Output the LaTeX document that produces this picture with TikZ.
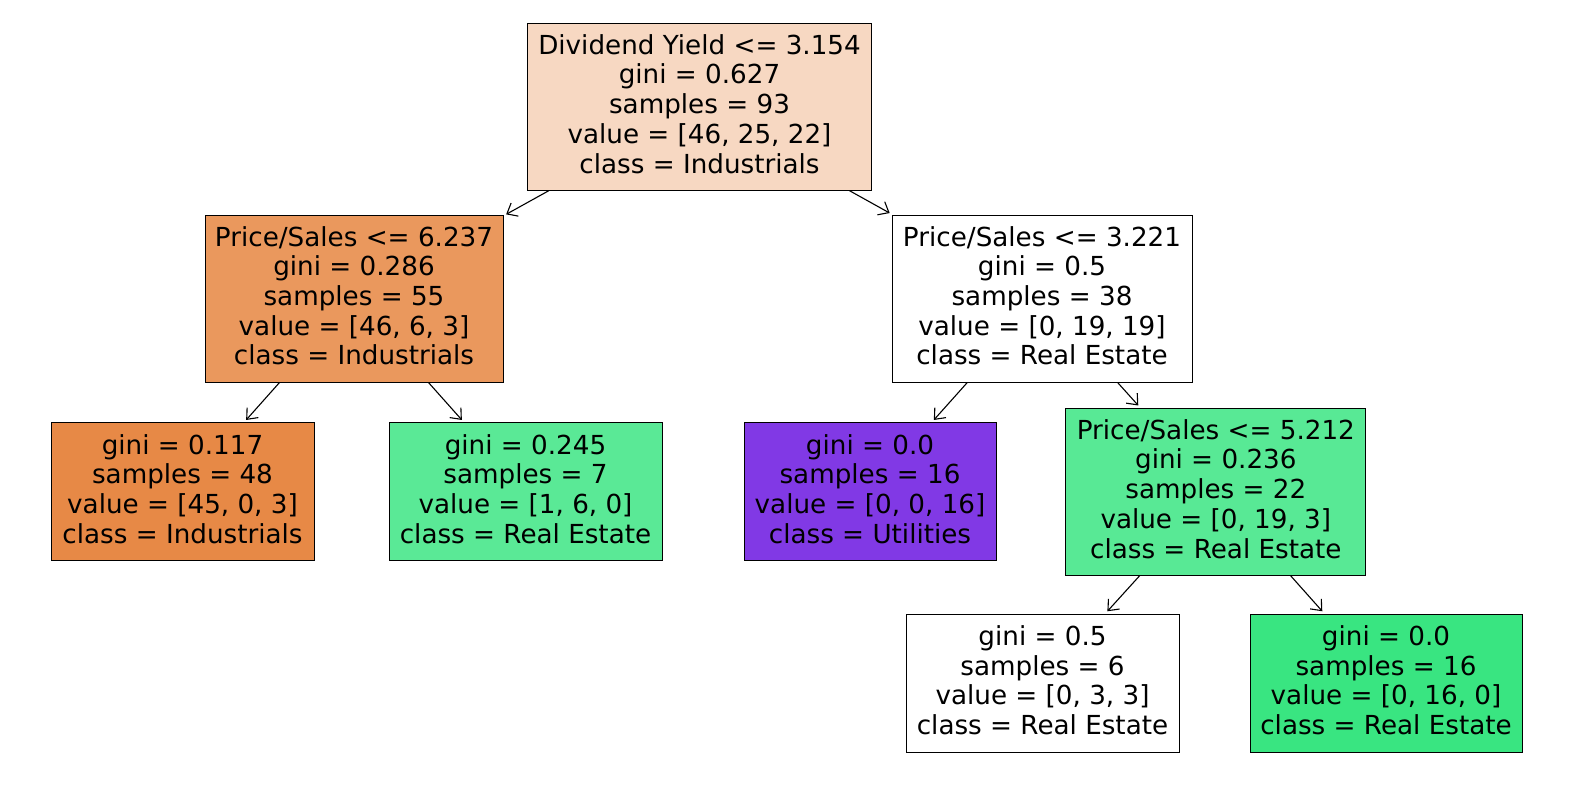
\documentclass[tikz,border=0pt]{standalone}
\usepackage{fontspec}
\setmainfont{DejaVu Sans}
\usetikzlibrary{arrows.meta}
\definecolor{cRoot}{HTML}{F7D8C2}
\definecolor{cL}{HTML}{EA985D}
\definecolor{cLL}{HTML}{E78946}
\definecolor{cLR}{HTML}{5AE996}
\definecolor{cRL}{HTML}{8139E5}
\definecolor{cRR}{HTML}{58E995}
\definecolor{cRRR}{HTML}{39E581}
\newcommand{\lowstrut}{\rule[-6pt]{0pt}{6pt}}
\tikzset{
  tnode/.style={draw=black, line width=1pt, align=center, inner sep=0pt,
    font=\fontsize{26.2}{29.7}\selectfont, minimum height=167pt},
  leaf/.style={tnode, minimum height=138pt},
  edge/.style={line width=1.1pt, -{Straight Barb[length=9pt,width=15pt,line width=1.1pt]}, shorten >=3pt}
}
\begin{document}
\begin{tikzpicture}[x=1pt,y=-1pt]
\useasboundingbox[fill=white] (0,0) rectangle (1570,790);
\node[tnode, fill=cRoot, minimum width=344pt] (root) at (699.5,106.7)
  {Dividend Yield <= 3.154\\gini = 0.627\\samples = 93\\value = [46, 25, 22]\\class = Industrials\lowstrut};
\node[tnode, fill=cL, minimum width=298pt] (l) at (354,298.5)
  {Price/Sales <= 6.237\\gini = 0.286\\samples = 55\\value = [46, 6, 3]\\class = Industrials\lowstrut};
\node[tnode, fill=white, minimum width=300pt] (r) at (1042,298.5)
  {Price/Sales <= 3.221\\gini = 0.5\\samples = 38\\value = [0, 19, 19]\\class = Real Estate\lowstrut};
\node[leaf, fill=cLL, minimum width=263pt] (ll) at (182.5,491.7)
  {gini = 0.117\\samples = 48\\value = [45, 0, 3]\\class = Industrials\lowstrut};
\node[leaf, fill=cLR, minimum width=273pt] (lr) at (525.5,491.7)
  {gini = 0.245\\samples = 7\\value = [1, 6, 0]\\class = Real Estate\lowstrut};
\node[leaf, fill=cRL, minimum width=252pt] (rl) at (870,491.7)
  {gini = 0.0\\samples = 16\\value = [0, 0, 16]\\class = Utilities\lowstrut};
\node[tnode, fill=cRR, minimum width=300pt] (rr) at (1215.8,491.7)
  {Price/Sales <= 5.212\\gini = 0.236\\samples = 22\\value = [0, 19, 3]\\class = Real Estate\lowstrut};
\node[leaf, fill=white, minimum width=273pt] (rrl) at (1042.5,683)
  {gini = 0.5\\samples = 6\\value = [0, 3, 3]\\class = Real Estate\lowstrut};
\node[leaf, fill=cRRR, minimum width=272pt] (rrr) at (1386,683)
  {gini = 0.0\\samples = 16\\value = [0, 16, 0]\\class = Real Estate\lowstrut};
\draw[edge] (root) -- (l);
\draw[edge] (root) -- (r);
\draw[edge] (l) -- (ll);
\draw[edge] (l) -- (lr);
\draw[edge] (r) -- (rl);
\draw[edge] (r) -- (rr);
\draw[edge] (rr) -- (rrl);
\draw[edge] (rr) -- (rrr);
\end{tikzpicture}
\end{document}
